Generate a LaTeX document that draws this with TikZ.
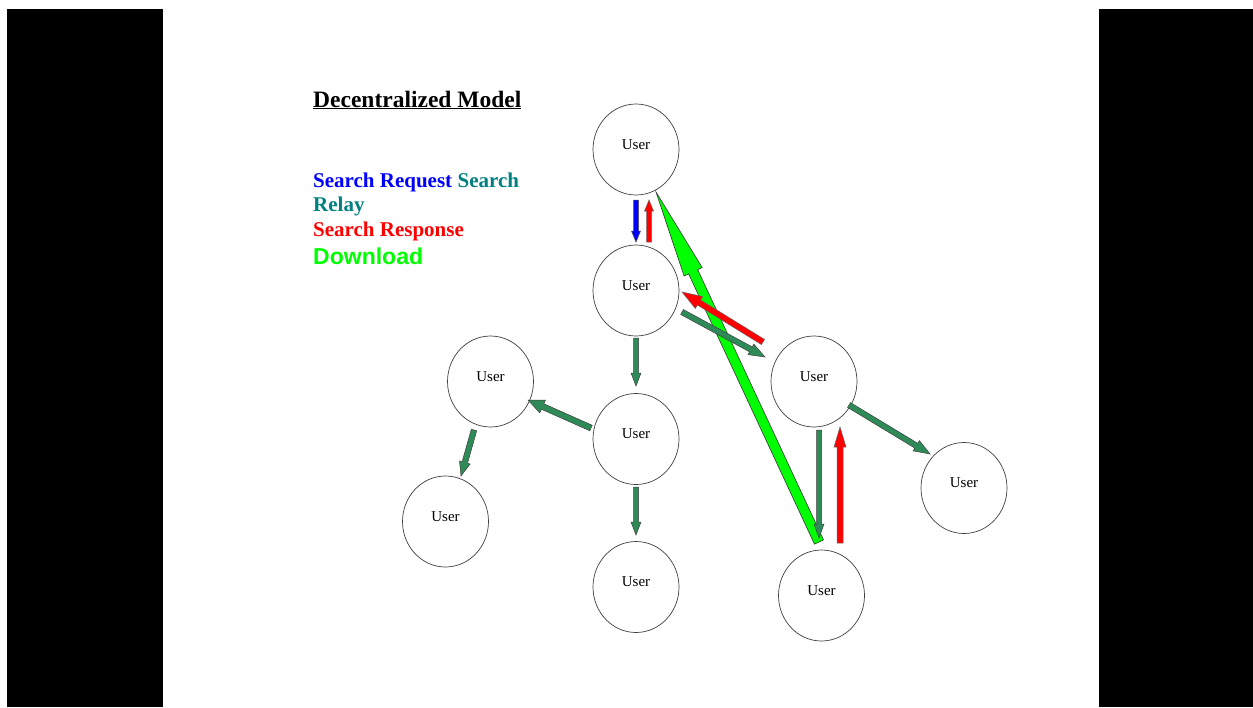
\documentclass[tikz,border=0pt]{standalone}
\usepackage{fontspec}
\setmainfont{Liberation Serif}
\newfontfamily\dlfont{Liberation Sans}
\usetikzlibrary{calc,shapes.geometric}

\definecolor{reqblue}{RGB}{0,0,255}
\definecolor{relaytext}{RGB}{0,128,128}
\definecolor{relayfill}{RGB}{46,139,87}
\definecolor{respred}{RGB}{255,0,0}
\definecolor{dlgreen}{RGB}{0,255,0}

% block arrow: #1 style, #2 tail, #3 tip, #4 half shaft width, #5 half head width, #6 head length
\newcommand\blkarrow[6]{%
  \path ($(#3)!#6!(#2)$) coordinate (hb);
  \draw[#1] ($(#2)!#4!90:(#3)$) -- ($(hb)!#4!90:(#3)$) -- ($(hb)!#5!90:(#3)$)
    -- (#3) -- ($(hb)!#5!-90:(#3)$) -- ($(hb)!#4!-90:(#3)$) -- ($(#2)!#4!-90:(#3)$) -- cycle;
}

\tikzset{
  user/.style={ellipse, draw=black!75, line width=0.7pt, minimum width=86pt,
    minimum height=91pt, inner sep=0pt, font=\fontsize{15}{17}\selectfont},
  reqarrow/.style={fill=reqblue, draw=black!70, line width=0.5pt, line join=miter},
  relayarrow/.style={fill=relayfill, draw=black!75, line width=0.5pt, line join=miter},
  resparrow/.style={fill=respred, draw=black!60, line width=0.5pt, line join=miter},
  dlarrow/.style={fill=dlgreen, draw=black!80, line width=0.6pt, line join=miter},
  legend/.style={anchor=base west, inner sep=0pt, font=\bfseries\fontsize{21}{24}\selectfont},
}

% label sits a little above and left of the ellipse centre
\newcommand\usertext{\raisebox{10pt}{User}\hspace{6pt}}

\begin{document}
\begin{tikzpicture}[x=1pt, y=-1pt]
  \useasboundingbox (0,0) rectangle (1253,707);
  \fill[white] (0,0) rectangle (1253,707);
  % side bars
  \fill[black] (7,9) rectangle (163,707);
  \fill[black] (1099,9) rectangle (1253,707);

  % title and legend
  \node[anchor=base west, inner sep=0pt, font=\bfseries\fontsize{23.5}{26}\selectfont] (title)
    at (313,107) {\underline{Decentralized Model}};
  \node[legend, text=reqblue] (lreq) at (313,187) {Search Request};
  \node[legend, text=relaytext, anchor=base west] (lrelay1) at ($(lreq.base east)+(5,0)$) {Search};
  \node[legend, text=relaytext] (lrelay2) at (313,211) {Relay};
  \node[legend, text=respred] (lresp) at (313,236) {Search Response};
  \node[anchor=base west, inner sep=0pt, text=dlgreen, font=\dlfont\bfseries\fontsize{23}{26}\selectfont]
    (ldl) at (313,264) {Download};

  % peers
  \node[user] (u1) at (636,149.5) {\usertext};
  \node[user] (u2) at (636,290.5) {\usertext};
  \node[user] (u3) at (490.5,381.5) {\usertext};
  \node[user] (u4) at (636,439) {\usertext};
  \node[user] (u5) at (814,381.5) {\usertext};
  \node[user] (u6) at (445.5,521.5) {\usertext};
  \node[user] (u7) at (636,587) {\usertext};
  \node[user] (u8) at (821.5,595.5) {\usertext};
  \node[user] (u9) at (964,488) {\usertext};

  % arrow end points
  \coordinate (q1a) at (636,200);   \coordinate (q1b) at (636,242);
  \coordinate (r1a) at (649,242);   \coordinate (r1b) at (649,200);
  \coordinate (s1a) at (682,312);   \coordinate (s1b) at (765,357);
  \coordinate (r2a) at (763,342);   \coordinate (r2b) at (682,292);
  \coordinate (s2a) at (636,338);   \coordinate (s2b) at (636,386);
  \coordinate (s3a) at (591,428);   \coordinate (s3b) at (528,400);
  \coordinate (s4a) at (474,430);   \coordinate (s4b) at (461,476);
  \coordinate (s5a) at (636,487);   \coordinate (s5b) at (636,535);
  \coordinate (s6a) at (819,430);   \coordinate (s6b) at (819,538);
  \coordinate (r3a) at (840,543);   \coordinate (r3b) at (840,427);
  \coordinate (s7a) at (849,405);   \coordinate (s7b) at (930,454);
  \coordinate (d1a) at (819,542);   \coordinate (d1b) at (656,192);

  % download path
  \blkarrow{dlarrow}{d1a}{d1b}{5pt}{10pt}{88pt}
  % search request
  \blkarrow{reqarrow}{q1a}{q1b}{2.5pt}{4.5pt}{11pt}
  % search relay
  \blkarrow{relayarrow}{s1a}{s1b}{2.8pt}{6pt}{16pt}
  \blkarrow{relayarrow}{s2a}{s2b}{2.5pt}{5pt}{13pt}
  \blkarrow{relayarrow}{s3a}{s3b}{3pt}{7pt}{16pt}
  \blkarrow{relayarrow}{s4a}{s4b}{2.8pt}{5.5pt}{14pt}
  \blkarrow{relayarrow}{s5a}{s5b}{2.5pt}{5pt}{13pt}
  \blkarrow{relayarrow}{s6a}{s6b}{2.5pt}{5pt}{14pt}
  \blkarrow{relayarrow}{s7a}{s7b}{2.8pt}{6pt}{16pt}
  % search response
  \blkarrow{resparrow}{r1a}{r1b}{2.5pt}{4.5pt}{11pt}
  \blkarrow{resparrow}{r2a}{r2b}{3pt}{7pt}{20pt}
  \blkarrow{resparrow}{r3a}{r3b}{3pt}{6pt}{20pt}
\end{tikzpicture}
\end{document}
